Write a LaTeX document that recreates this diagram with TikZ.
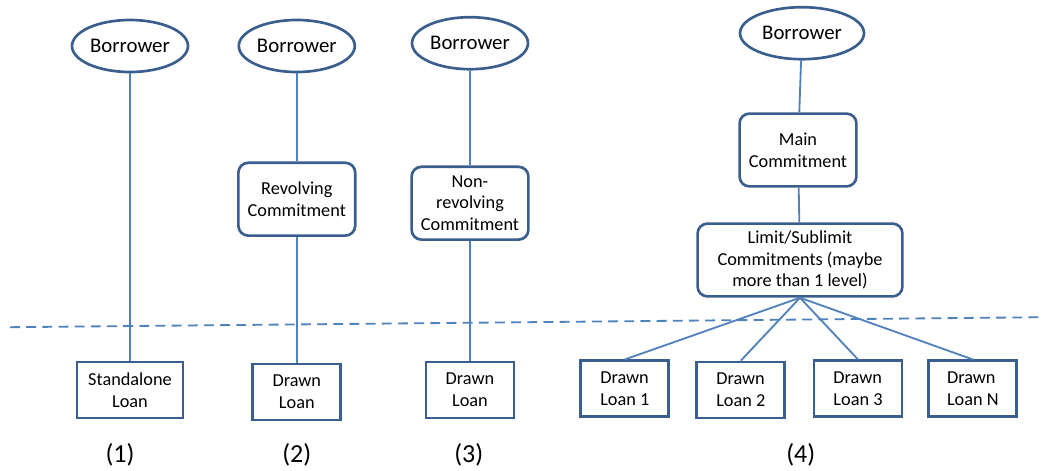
\documentclass[tikz,border=0pt]{standalone}
\usepackage{fontspec}
\setmainfont{Carlito}
\usetikzlibrary{positioning, shapes.geometric}

\definecolor{linkblue}{HTML}{4F81BD}
\definecolor{edgeblue}{HTML}{3A5F8E}

\begin{document}
\begin{tikzpicture}[
        party/.style={ellipse, draw=edgeblue, line width=1.9pt, minimum width=2.9cm, minimum height=1.3cm, inner sep=0pt, font=\fontsize{14.8}{17}\selectfont},
        commit/.style={rectangle, rounded corners=7pt, draw=edgeblue, line width=1.9pt, minimum width=2.92cm, minimum height=1.82cm, align=center, inner sep=2pt, font=\fontsize{13}{15.4}\selectfont},
        loan/.style={rectangle, draw=edgeblue, line width=1.9pt, minimum width=2.2cm, minimum height=1.4cm, align=left, inner sep=2pt, font=\fontsize{13}{15.4}\selectfont},
        caseno/.style={inner sep=0pt, font=\fontsize{18.5}{20}\selectfont},
        link/.style={draw=linkblue, line width=1.3pt}
    ]
            \useasboundingbox (0, 0) rectangle (26.1, -11.75);

            % (1)
            \node[party] (borrower1) at (3.25, -1.15) {Borrower};
            \node[loan, minimum width=2.65cm, align=center] (standalone) at (3.25, -9.75) {Standalone\\Loan};
            \node[caseno] (case1) at (3.0, -11.38) {(1)};

            % (2)
            \node[party] (borrower2) at (7.42, -1.15) {Borrower};
            \node[commit] (revolving) at (7.42, -4.98) {Revolving\\Commitment};
            \node[loan, align=center] (drawn2) at (7.42, -9.8) {Drawn\\Loan};
            \node[caseno] (case2) at (7.42, -11.38) {(2)};

            % (3)
            \node[party] (borrower3) at (11.75, -1.08) {Borrower};
            \node[commit] (nonrevolving) at (11.75, -5.08) {Non-\\revolving\\Commitment};
            \node[loan, align=center] (drawn3) at (11.75, -9.75) {Drawn\\Loan};
            \node[caseno] (case3) at (11.72, -11.38) {(3)};

            % (4)
            \node[party, minimum width=3.1cm] (borrower4) at (20.05, -0.83) {Borrower};
            \node[commit] (main) at (19.95, -3.75) {Main\\Commitment};
            \node[commit, minimum width=5.12cm] (limit) at (20.0, -6.5) {Limit/Sublimit\\Commitments (maybe\\more than 1 level)};
            \node[loan] (loan1) at (15.62, -9.72) {Drawn\\Loan 1};
            \node[loan] (loan2) at (18.52, -9.75) {Drawn\\Loan 2};
            \node[loan] (loan3) at (21.45, -9.72) {Drawn\\Loan 3};
            \node[loan] (loanN) at (24.32, -9.72) {Drawn\\Loan N};
            \node[caseno] (case4) at (20.02, -11.38) {(4)};

            \coordinate (cutL) at (0.25, -8.18);
            \coordinate (cutR) at (26.1, -7.93);

            \draw[link] (borrower1) -- (standalone);
            \draw[link] (borrower2) -- (revolving);
            \draw[link] (revolving) -- (drawn2);
            \draw[link] (borrower3) -- (nonrevolving);
            \draw[link] (nonrevolving) -- (drawn3);
            \draw[link] (borrower4) -- (main);
            \draw[link] (main) -- (limit);
            \draw[link] (limit.south) -- (loan1.north);
            \draw[link] (limit.south) -- (loan2.north);
            \draw[link] (limit.south) -- (loan3.north);
            \draw[link] (limit.south) -- (loanN.north);

            \draw[link, dash pattern=on 7pt off 4.5pt] (cutL) -- (cutR);
        \end{tikzpicture}
\end{document}
